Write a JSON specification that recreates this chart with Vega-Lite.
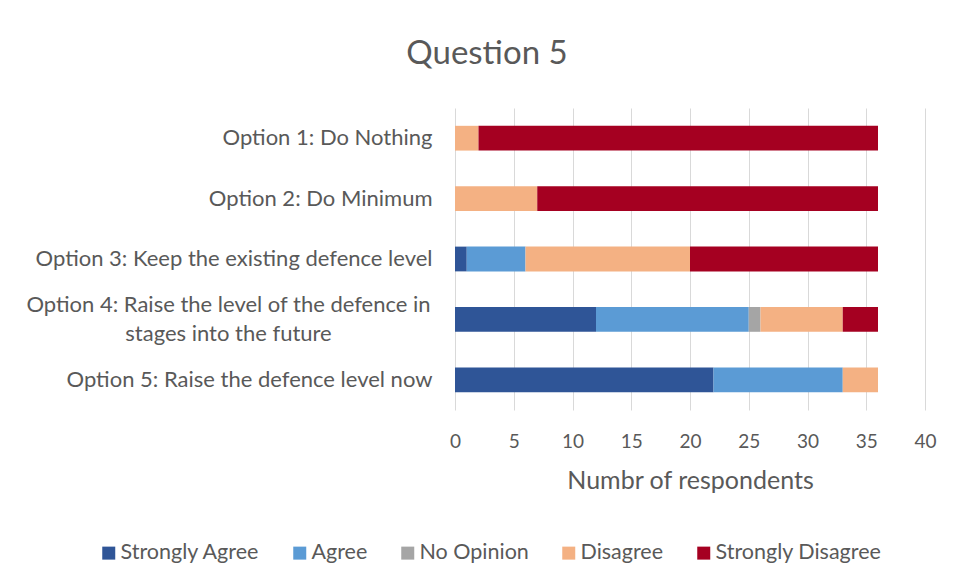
{
  "$schema": "https://vega.github.io/schema/vega-lite/v6.json",
  "width": 470,
  "height": 302,
  "autosize": {"type": "none"},
  "padding": {"left": 455, "top": 108, "right": 29, "bottom": 175},
  "background": "white",
  "title": {"text": "Question 5", "font": "Lato", "fontSize": 33, "fontWeight": "normal", "color": "#595959", "anchor": "middle", "frame": "group", "dx": -203, "offset": 37},
  "data": {"values": [
    {"option": "Option 1: Do Nothing", "response": "Disagree", "count": 2},
    {"option": "Option 1: Do Nothing", "response": "Strongly Disagree", "count": 34},
    {"option": "Option 2: Do Minimum", "response": "Disagree", "count": 7},
    {"option": "Option 2: Do Minimum", "response": "Strongly Disagree", "count": 29},
    {"option": "Option 3: Keep the existing defence level", "response": "Strongly Agree", "count": 1},
    {"option": "Option 3: Keep the existing defence level", "response": "Agree", "count": 5},
    {"option": "Option 3: Keep the existing defence level", "response": "Disagree", "count": 14},
    {"option": "Option 3: Keep the existing defence level", "response": "Strongly Disagree", "count": 16},
    {"option": "Option 4: Raise the level of the defence in stages into the future", "response": "Strongly Agree", "count": 12},
    {"option": "Option 4: Raise the level of the defence in stages into the future", "response": "Agree", "count": 13},
    {"option": "Option 4: Raise the level of the defence in stages into the future", "response": "No Opinion", "count": 1},
    {"option": "Option 4: Raise the level of the defence in stages into the future", "response": "Disagree", "count": 7},
    {"option": "Option 4: Raise the level of the defence in stages into the future", "response": "Strongly Disagree", "count": 3},
    {"option": "Option 5: Raise the defence level now", "response": "Strongly Agree", "count": 22},
    {"option": "Option 5: Raise the defence level now", "response": "Agree", "count": 11},
    {"option": "Option 5: Raise the defence level now", "response": "Disagree", "count": 3}
  ]},
  "transform": [
    {"calculate": "indexof(['Strongly Agree', 'Agree', 'No Opinion', 'Disagree', 'Strongly Disagree'], datum.response)", "as": "stackOrder"}
  ],
  "mark": {"type": "bar"},
  "encoding": {
    "y": {
      "field": "option",
      "type": "nominal",
      "sort": ["Option 1: Do Nothing", "Option 2: Do Minimum", "Option 3: Keep the existing defence level", "Option 4: Raise the level of the defence in stages into the future", "Option 5: Raise the defence level now"],
      "scale": {"paddingInner": 0.59, "paddingOuter": 0.295},
      "axis": {
        "title": null,
        "ticks": false,
        "domain": false,
        "labelFont": "Lato",
        "labelFontSize": 22,
        "labelColor": "#595959",
        "labelLimit": 600,
        "labelLineHeight": 29,
        "labelExpr": "datum.value == 'Option 4: Raise the level of the defence in stages into the future' ? ['Option 4: Raise the level of the defence in', 'stages into the future'] : datum.label",
        "labelAlign": {"condition": {"test": "datum.value == 'Option 4: Raise the level of the defence in stages into the future'", "value": "center"}, "value": "right"},
        "labelPadding": {"condition": {"test": "datum.value == 'Option 4: Raise the level of the defence in stages into the future'", "value": 227}, "value": 23},
        "labelOffset": {"condition": {"test": "datum.value == 'Option 4: Raise the level of the defence in stages into the future'", "value": -14}, "value": 0}
      }
    },
    "x": {
      "field": "count",
      "type": "quantitative",
      "stack": "zero",
      "scale": {"domain": [0, 40], "nice": false},
      "axis": {
        "title": "Numbr of respondents",
        "values": [0, 5, 10, 15, 20, 25, 30, 35, 40],
        "ticks": false,
        "domain": false,
        "grid": true,
        "gridColor": "#d9d9d9",
        "labelFlush": false,
        "labelFont": "Lato",
        "labelFontSize": 19,
        "labelColor": "#595959",
        "labelPadding": 22,
        "titleFont": "Lato",
        "titleFontSize": 25,
        "titleFontWeight": "normal",
        "titleColor": "#595959",
        "titlePadding": 17
      }
    },
    "order": {"field": "stackOrder", "type": "quantitative", "sort": "ascending"},
    "color": {
      "field": "response",
      "type": "nominal",
      "sort": ["Strongly Agree", "Agree", "No Opinion", "Disagree", "Strongly Disagree"],
      "scale": {
        "domain": ["Strongly Agree", "Agree", "No Opinion", "Disagree", "Strongly Disagree"],
        "range": ["#2F5597", "#5B9BD5", "#A5A5A5", "#F4B183", "#A50021"]
      },
      "legend": {
        "title": null,
        "orient": "none",
        "direction": "horizontal",
        "legendX": -357,
        "legendY": 434,
        "padding": 0,
        "symbolType": "square",
        "symbolSize": 169,
        "symbolStrokeWidth": 0,
        "symbolOpacity": 1,
        "labelFont": "Lato",
        "labelFontSize": 21.5,
        "labelColor": "#595959",
        "labelOffset": 1,
        "columnPadding": 29,
        "labelLimit": 400
      }
    }
  },
  "config": {"view": {"stroke": null}}
}
